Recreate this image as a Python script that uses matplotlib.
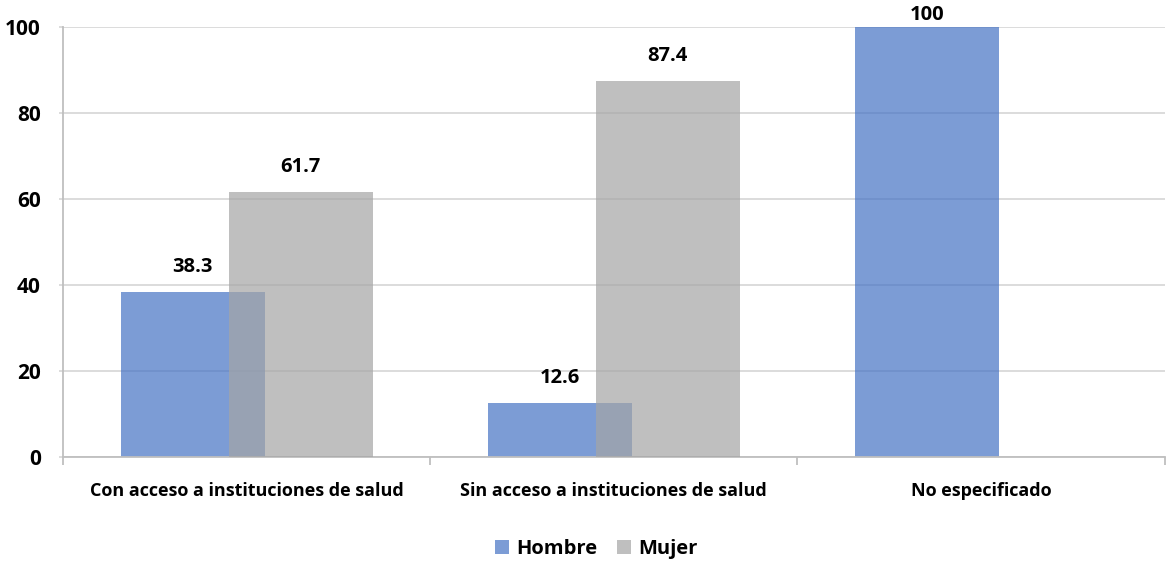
import matplotlib.pyplot as plt
import numpy as np

categories = [
    "Con acceso a instituciones de salud",
    "Sin acceso a instituciones de salud",
    "No especificado",
]
hombre = [38.3, 12.6, 100]
mujer = [61.7, 87.4, None]
y_ticks = [0, 20, 40, 60, 80, 100]

plt.rcParams["font.family"] = ["Open Sans", "DejaVu Sans"]
plt.rcParams["font.weight"] = "bold"

fig = plt.figure(figsize=(11.67, 5.71), dpi=100)
ax = fig.add_axes([0.054, 0.1996, 0.944, 0.7531])

x = np.arange(len(categories))
width = 0.392
offset = 0.147

h_vals = [v if v is not None else 0 for v in hombre]
m_vals = [v if v is not None else 0 for v in mujer]
bars_h = ax.bar(x - offset, h_vals, width, color="#4472c4", alpha=0.7,
                label="Hombre", zorder=2)
bars_m = ax.bar(x + offset, m_vals, width, color="#a5a5a5", alpha=0.7,
                label="Mujer", zorder=3)

# value labels above each bar, kept inside the top edge
for xs, vals in ((x - offset, hombre), (x + offset, mujer)):
    for xi, v in zip(xs, vals):
        if v is None:
            continue
        ax.text(xi, min(v + 5.8, 102.8), f"{v:g}", ha="center", va="center",
                fontsize=14.5, fontweight="bold", zorder=4)

ax.set_xlim(-0.5, 2.5)
ax.set_ylim(0, 100)
ax.set_yticks(y_ticks)
ax.yaxis.grid(True, color="#d9d9d9", linewidth=1.3, zorder=1)
ax.set_axisbelow(True)

ax.set_xticks(x)
ax.set_xticklabels(categories, fontweight="bold")
ax.set_xticks([-0.5, 0.5, 1.5, 2.5], minor=True)
ax.tick_params(axis="x", which="major", length=0, pad=18, labelsize=13)
ax.tick_params(axis="x", which="minor", length=6, width=1.3, color="#bfbfbf")
ax.tick_params(axis="y", length=3, width=1.3, color="#d9d9d9", pad=13,
               labelsize=15)
for lbl in ax.get_yticklabels():
    lbl.set_fontweight("bold")

for side in ("top", "right"):
    ax.spines[side].set_visible(False)
for side in ("left", "bottom"):
    ax.spines[side].set_color("#bfbfbf")
    ax.spines[side].set_linewidth(1.3)

fig.legend(handles=[bars_h, bars_m], labels=["Hombre", "Mujer"],
           loc="center", bbox_to_anchor=(0.511, 0.038), ncol=2, frameon=False,
           prop={"size": 14.5, "weight": "bold"}, handlelength=0.7,
           handleheight=0.7, handletextpad=0.35, columnspacing=1.0)

fig.savefig("out.png", dpi=100)
